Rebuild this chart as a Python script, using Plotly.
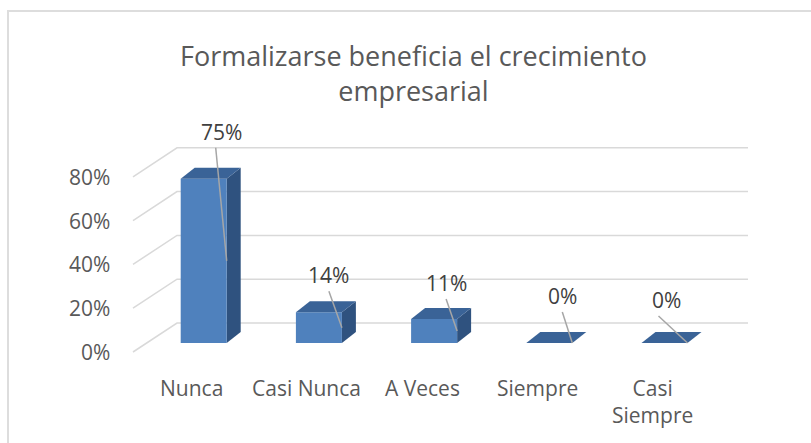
import plotly.graph_objects as go

# ---------------- data ----------------
categories = ["Nunca", "Casi Nunca", "A Veces", "Siempre", "Casi Siempre"]
category_labels = ["Nunca", "Casi Nunca", "A Veces", "Siempre", "Casi<br>Siempre"]
values = [75, 14, 11, 0, 0]
value_labels = ["75%", "14%", "11%", "0%", "0%"]
y_ticks = [0, 20, 40, 60, 80]
y_tick_labels = ["0%", "20%", "40%", "60%", "80%"]
title_text = "Formalizarse beneficia el crecimiento<br>empresarial"

# ---------------- style / geometry ----------------
W, H = 811, 443
PX0, PX_STEP = 203.7, 115.2   # pixel of first category, spacing
PY0, PY_PER = 343.0, 2.19     # pixel of 0 %, pixels per percent

def dx(px):  # pixel distance -> x data units
    return px / PX_STEP

def dy(px):  # pixel distance -> y data units (upwards positive)
    return px / PY_PER

FONT = "Open Sans, sans-serif"
FRONT = "#4F81BD"
TOP = "#3A6397"
SIDE = "#2F527F"
GRID = "#D9D9D9"
TXT = "#595959"
LEADER = "#A6A6A6"

half_w = dx(23)
depth_x, depth_y = dx(14), dy(11)
front_off_y = -dy(9)
back_off_y = dy(20)
grid_x_front = dx(133 - PX0)
grid_x_back = dx(177 - PX0)
grid_x_end = dx(748 - PX0)

label_dx_px = [18, 10, 12, 13, 2]
label_dy_px = [47, 37, 36, 47, 43]
leader_dx_px = [12, 10, 12, 13, -6]

xs = list(range(len(categories)))

fig = go.Figure()

# gridlines (floor diagonal + back wall)
for t in y_ticks:
    fig.add_trace(go.Scatter(
        x=[grid_x_front, grid_x_back, grid_x_end],
        y=[t + front_off_y, t + back_off_y, t + back_off_y],
        mode="lines", line=dict(color=GRID, width=1.5),
        hoverinfo="skip", showlegend=False))

# 3D bars
for i, v in zip(xs, values):
    x0, x1 = i - half_w, i + half_w
    if v > 0:
        # side face
        fig.add_trace(go.Scatter(
            x=[x1, x1, x1 + depth_x, x1 + depth_x, x1],
            y=[0, v, v + depth_y, depth_y, 0],
            fill="toself", fillcolor=SIDE, mode="lines",
            line=dict(width=0, color=SIDE), hoverinfo="skip", showlegend=False))
        # front face
        fig.add_trace(go.Scatter(
            x=[x0, x1, x1, x0, x0],
            y=[0, 0, v, v, 0],
            fill="toself", fillcolor=FRONT, mode="lines",
            line=dict(width=0, color=FRONT), hoverinfo="skip", showlegend=False))
    # top face
    fig.add_trace(go.Scatter(
        x=[x0, x1, x1 + depth_x, x0 + depth_x, x0],
        y=[v, v, v + depth_y, v + depth_y, v],
        fill="toself", fillcolor=TOP, mode="lines",
        line=dict(width=0, color=TOP), hoverinfo="skip", showlegend=False))

annotations = []

# leader lines + data labels
for i, v, lab, ldx, ldy, sdx in zip(xs, values, value_labels,
                                   label_dx_px, label_dy_px, leader_dx_px):
    lx = i + dx(ldx)
    ly = v + dy(ldy)
    fig.add_trace(go.Scatter(
        x=[i + dx(sdx), i + half_w],
        y=[ly - dy(16), v / 2],
        mode="lines", line=dict(color=LEADER, width=1.5),
        hoverinfo="skip", showlegend=False))
    annotations.append(dict(
        x=lx, y=ly, xref="x", yref="y", text=lab, showarrow=False,
        xanchor="center", yanchor="middle",
        font=dict(family=FONT, size=21, color="#404040")))

# y tick labels (front plane)
for t, lab in zip(y_ticks, y_tick_labels):
    annotations.append(dict(
        x=dx(112 - PX0), y=t + front_off_y, xref="x", yref="y", text=lab,
        showarrow=False, xanchor="right", yanchor="middle",
        font=dict(family=FONT, size=21, color=TXT)))

# category labels
for i, lab in zip(xs, category_labels):
    annotations.append(dict(
        x=i - dx(12), y=-dy(372 - PY0), xref="x", yref="y", text=lab,
        showarrow=False, xanchor="center", yanchor="top",
        font=dict(family=FONT, size=21, color=TXT)))

# title
annotations.append(dict(
    x=414 / W, y=1 - 35 / H, xref="paper", yref="paper", text=title_text,
    showarrow=False, xanchor="center", yanchor="top",
    font=dict(family=FONT, size=27, color=TXT)))

fig.update_layout(
    width=W, height=H,
    margin=dict(l=0, r=0, t=0, b=0),
    paper_bgcolor="white", plot_bgcolor="white",
    xaxis=dict(range=[dx(0 - PX0), dx(W - PX0)], visible=False, fixedrange=True),
    yaxis=dict(range=[-dy(H - PY0), dy(PY0)], visible=False, fixedrange=True),
    annotations=annotations,
    shapes=[dict(type="rect", xref="paper", yref="paper",
                 x0=8 / W, x1=1.05, y0=-0.1, y1=1 - 11 / H,
                 line=dict(color="#DDDDDD", width=2), fillcolor="rgba(0,0,0,0)")],
)

fig.write_html(
    "out.html",
    config={"displayModeBar": False},
    post_script="document.body.style.margin='0px';document.body.style.overflow='hidden';",
)
